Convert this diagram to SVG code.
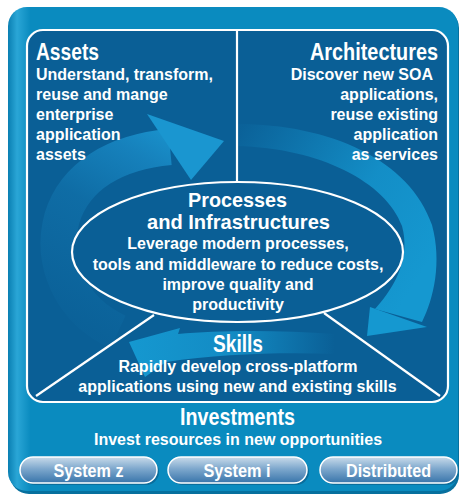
<svg xmlns="http://www.w3.org/2000/svg" width="460" height="496" viewBox="0 0 460 496">
<defs>
<style>
.t{font-family:"Liberation Sans",Arial,sans-serif;font-weight:bold;fill:#fff}
.h{font-size:23px}
.h2{font-size:20.5px}
.b{font-size:16px}
.btn{font-size:19px}
.ln{stroke:#fff;stroke-width:2.2;fill:none}
.pill{fill:url(#pg);stroke:#fff;stroke-width:1.5}
</style>
<linearGradient id="pg" x1="0" y1="0" x2="0" y2="1">
<stop offset="0" stop-color="#c9dbea"/>
<stop offset="0.45" stop-color="#7ea8cd"/>
<stop offset="1" stop-color="#3874aa"/>
</linearGradient>
<linearGradient id="frame" x1="0" y1="0" x2="1" y2="0">
<stop offset="0" stop-color="#0a7fb2"/>
<stop offset="0.02" stop-color="#2aa6d6"/>
<stop offset="0.05" stop-color="#0a8bbf"/>
<stop offset="1" stop-color="#0a8bbf"/>
</linearGradient>
<linearGradient id="a1" gradientUnits="userSpaceOnUse" x1="90" y1="330" x2="200" y2="140">
<stop offset="0" stop-color="#1a8cc8" stop-opacity="0.05"/>
<stop offset="0.5" stop-color="#1a8cc8" stop-opacity="0.3"/>
<stop offset="0.8" stop-color="#1a8cc8" stop-opacity="0.75"/>
<stop offset="1" stop-color="#1a96d0" stop-opacity="1"/>
</linearGradient>
<linearGradient id="a2" gradientUnits="userSpaceOnUse" x1="237" y1="135" x2="430" y2="260">
<stop offset="0" stop-color="#1596cf" stop-opacity="0.05"/>
<stop offset="0.6" stop-color="#1596cf" stop-opacity="0.85"/>
<stop offset="1" stop-color="#1598d0" stop-opacity="1"/>
</linearGradient>
<linearGradient id="a3" gradientUnits="userSpaceOnUse" x1="335" y1="0" x2="130" y2="0">
<stop offset="0" stop-color="#1596cf" stop-opacity="0"/>
<stop offset="0.5" stop-color="#1596cf" stop-opacity="0.8"/>
<stop offset="1" stop-color="#1598d0" stop-opacity="1"/>
</linearGradient>
</defs>

<g id="frame-bg">
<rect x="10" y="9" width="449" height="485" rx="19" fill="#07709e"/>
<rect x="8" y="7" width="450" height="484" rx="19" fill="url(#frame)"/>
<rect x="27" y="30" width="421" height="372" rx="16" fill="#0a5f96"/>
</g>

<g id="connectors">
<path d="M118,332 C70,310 50,262 62,218 C75,176 115,152 170,147" fill="none" stroke="url(#a1)" stroke-width="36"/>
<polygon points="147,114 224,141 191,180" fill="#1a96d0"/>
<path d="M237,124 C330,124 410,160 432,225 C442,262 434,298 422,322 L375,309 C398,284 410,255 402,226 C386,182 320,148 237,146 Z" fill="url(#a2)"/>
<polygon points="370,307 427,327 367,336" fill="#1598d0"/>
<path d="M335,334 C280,330 220,330 178,334 L180,328 L129,342 L145,377 L166,362 C220,354 280,352 335,354 Z" fill="url(#a3)"/>
<line class="ln" x1="237" y1="30" x2="237" y2="182"/>
<line class="ln" x1="154" y1="315" x2="36" y2="396"/>
<line class="ln" x1="324" y1="313" x2="440" y2="396"/>
</g>

<rect x="27" y="30" width="421" height="372" rx="16" fill="none" stroke="#fff" stroke-width="2.2"/>

<g id="processes">
<ellipse cx="237.5" cy="252" rx="165.5" ry="70" fill="#0a5f96" stroke="#fff" stroke-width="2.2"/>
<text class="t h2" x="237.5" y="207" text-anchor="middle" textLength="99" lengthAdjust="spacingAndGlyphs">Processes</text>
<text class="t h2" x="238.5" y="229" text-anchor="middle" textLength="183" lengthAdjust="spacingAndGlyphs">and Infrastructures</text>
<text class="t b" x="238" y="249" text-anchor="middle">Leverage modern processes,</text>
<text class="t b" x="238" y="270" text-anchor="middle">tools and middleware to reduce costs,</text>
<text class="t b" x="238" y="290" text-anchor="middle">improve quality and</text>
<text class="t b" x="238" y="310" text-anchor="middle">productivity</text>
</g>

<g id="assets">
<text class="t h" x="36" y="60" textLength="63" lengthAdjust="spacingAndGlyphs">Assets</text>
<text class="t b" x="36" y="80">Understand, transform,</text>
<text class="t b" x="36" y="100">reuse and mange</text>
<text class="t b" x="36" y="120">enterprise</text>
<text class="t b" x="36" y="140">application</text>
<text class="t b" x="36" y="160">assets</text>
</g>

<g id="architectures">
<text class="t h" x="438" y="60" text-anchor="end" textLength="128" lengthAdjust="spacingAndGlyphs">Architectures</text>
<text class="t b" x="433" y="80" text-anchor="end">Discover new SOA</text>
<text class="t b" x="438" y="100" text-anchor="end">applications,</text>
<text class="t b" x="438" y="120" text-anchor="end">reuse existing</text>
<text class="t b" x="438" y="140" text-anchor="end">application</text>
<text class="t b" x="438" y="160" text-anchor="end">as services</text>
</g>

<g id="skills">
<text class="t h" x="238" y="352" text-anchor="middle" textLength="50" lengthAdjust="spacingAndGlyphs">Skills</text>
<text class="t b" x="238" y="372" text-anchor="middle">Rapidly develop cross-platform</text>
<text class="t b" x="237.5" y="392" text-anchor="middle">applications using new and existing skills</text>
</g>

<g id="investments">
<text class="t h" x="237.5" y="425" text-anchor="middle" textLength="115" lengthAdjust="spacingAndGlyphs">Investments</text>
<text class="t b" x="238" y="445" text-anchor="middle">Invest resources in new opportunities</text>
</g>

<g id="system-z">
<rect x="22" y="459" width="137" height="26" rx="13" fill="#0a6d9c"/>
<rect class="pill" x="20" y="457" width="137" height="26" rx="13"/>
<text class="t btn" x="88.5" y="477" text-anchor="middle" textLength="70" lengthAdjust="spacingAndGlyphs">System z</text>
</g>
<g id="system-i">
<rect x="170" y="459" width="139" height="26" rx="13" fill="#0a6d9c"/>
<rect class="pill" x="168" y="457" width="139" height="26" rx="13"/>
<text class="t btn" x="237" y="477" text-anchor="middle" textLength="67" lengthAdjust="spacingAndGlyphs">System i</text>
</g>
<g id="distributed">
<rect x="322" y="459" width="137" height="26" rx="13" fill="#0a6d9c"/>
<rect class="pill" x="320" y="457" width="137" height="26" rx="13"/>
<text class="t btn" x="388.5" y="477" text-anchor="middle" textLength="85" lengthAdjust="spacingAndGlyphs">Distributed</text>
</g>
</svg>
